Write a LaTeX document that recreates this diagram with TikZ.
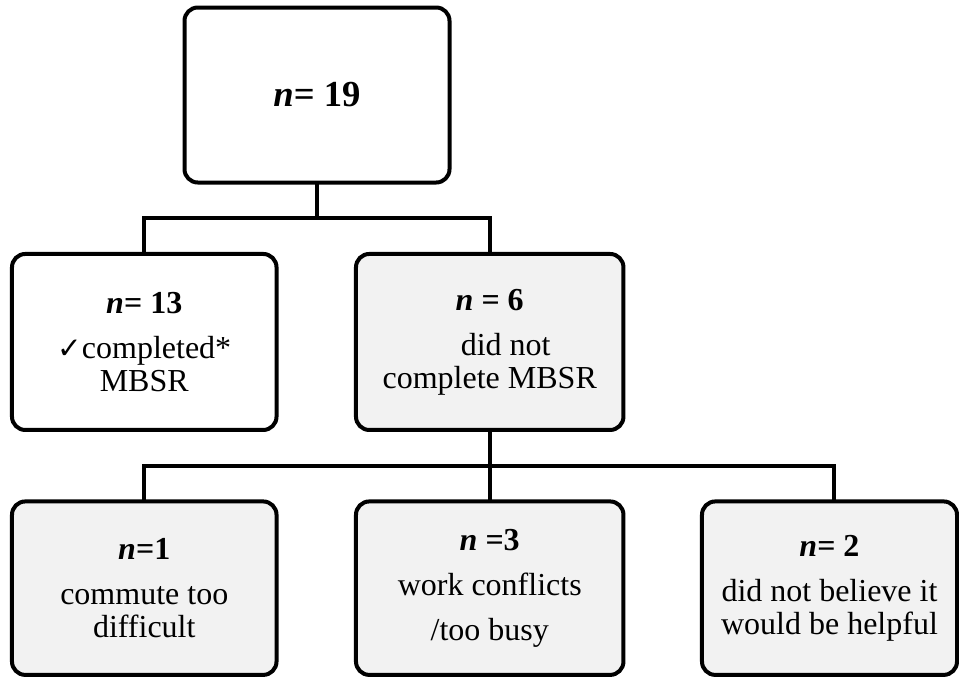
\documentclass[tikz,border=0pt]{standalone}
\usepackage{fontspec}
\setmainfont{Liberation Serif}
\newfontfamily\symbolfont{DejaVu Sans}
\usetikzlibrary{positioning,calc}

\begin{document}
\begin{tikzpicture}[
        x=.75pt, y=-.75pt,
        every path/.style={line width=3pt},
        box/.style={draw, rounded corners=10pt, outer sep=0pt, align=center, minimum width=198.4pt, minimum height=132pt, font=\fontsize{24}{24.75}\selectfont},
        shaded/.style={box, fill=gray!10, minimum width=200.6pt}
    ]
  \useasboundingbox (0,0) rectangle (959,679);

  % Nodes
  \node (all) [box, minimum width=198.75pt, minimum height=131.25pt, font=\fontsize{27.5}{30}\selectfont\bfseries] at (317,95) {\textit{n}= 19};
  \node (done) [box, below=53.6pt of all, xshift=-129.56pt] {\textbf{\textit{n}= 13}\\[9pt]{\symbolfont\fontsize{22}{22}\selectfont ✓}completed*\\MBSR};
  \node (notdone) [shaded, right=59.6pt of done] {\textbf{\textit{n} = 6}\\[9pt]\hspace*{24pt}did not\\complete MBSR};
  \node (commute) [shaded, minimum width=198.4pt, minimum height=130.1pt, below=53.6pt of done] {\textbf{\textit{n}=1}\\[9pt]commute too\\difficult};
  \node (busy) [shaded, minimum height=130.1pt, right=59.6pt of commute] {\textbf{\textit{n} =3}\\[9pt]work conflicts\\[9pt]/too busy};
  \node (helpful) [shaded, minimum width=191.25pt, minimum height=130.1pt, right=58.9pt of busy] {\textbf{\textit{n}= 2}\\[9pt]did not believe it\\would be helpful};

  \coordinate (fork1) at ($(all.south)!.5!(done.north)$);
  \coordinate (fork2) at ($(notdone.south)!.5!(commute.north)$);
  \coordinate (drop) at ($(helpful.north)+(4.5,0)$);

  \draw (all.south) -- (all.south |- fork1);
  \draw (done.north) |- (fork1 -| notdone.north) -- (notdone.north);
  \draw (notdone.south) -- (busy.north);
  \draw (commute.north) |- (fork2 -| drop) -- (drop);
\end{tikzpicture}
\end{document}
